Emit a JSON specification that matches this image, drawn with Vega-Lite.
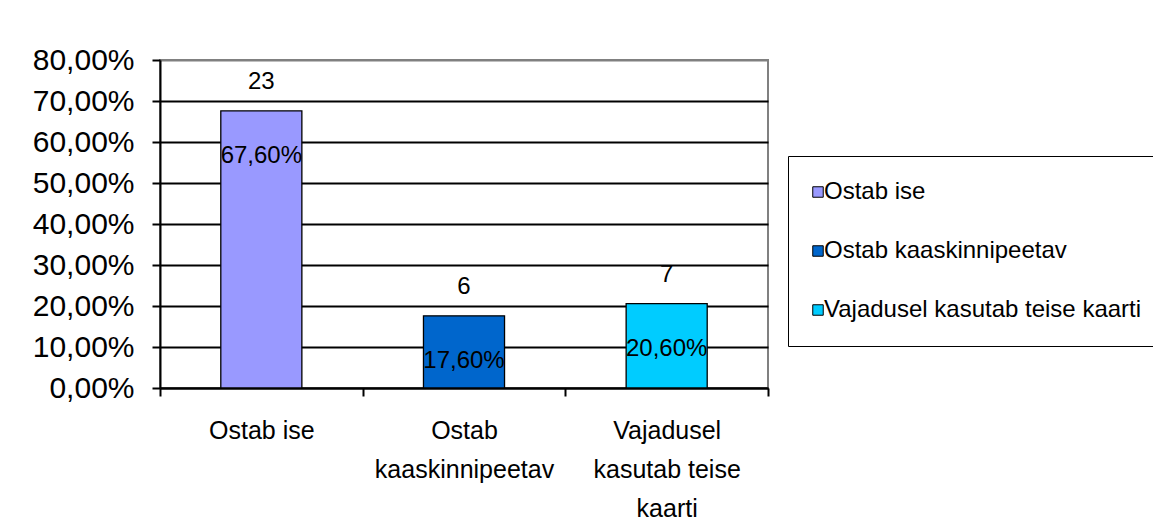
{
  "$schema": "https://vega.github.io/schema/vega-lite/v6.json",
  "autosize": "none",
  "padding": {"left": 160, "top": 60, "right": 385, "bottom": 142},
  "width": 608,
  "height": 328,
  "background": "white",
  "config": {
    "locale": {"number": {"decimal": ",", "thousands": " ", "grouping": [3], "currency": ["", " €"]}},
    "font": "Liberation Sans",
    "view": {"stroke": "#808080", "strokeWidth": 2},
    "axis": {"domainColor": "black", "tickColor": "black", "labelColor": "black", "labelFont": "Liberation Sans"}
  },
  "data": {
    "values": [
      {"category": "Ostab ise", "pct": 0.676, "count": 23},
      {"category": "Ostab kaaskinnipeetav", "pct": 0.176, "count": 6},
      {"category": "Vajadusel kasutab teise kaarti", "pct": 0.206, "count": 7}
    ]
  },
  "encoding": {
    "x": {
      "field": "category",
      "type": "nominal",
      "sort": null,
      "title": null,
      "scale": {"paddingInner": 0, "paddingOuter": 0},
      "axis": {
        "labelAngle": 0,
        "labelFontSize": 25,
        "labelLimit": 500,
        "labelLineHeight": 39,
        "labelPadding": 22,
        "labelBaseline": "top",
        "tickBand": "extent",
        "tickSize": 8,
        "tickWidth": 2,
        "domainWidth": 2,
        "labelExpr": "datum.label == 'Ostab kaaskinnipeetav' ? ['Ostab', 'kaaskinnipeetav'] : datum.label == 'Vajadusel kasutab teise kaarti' ? ['Vajadusel', 'kasutab teise', 'kaarti'] : datum.label"
      }
    },
    "y": {
      "field": "pct",
      "type": "quantitative",
      "title": null,
      "scale": {"domain": [0, 0.8], "nice": false},
      "axis": {
        "values": [0, 0.1, 0.2, 0.3, 0.4, 0.5, 0.6, 0.7, 0.8],
        "format": ".2%",
        "labelFontSize": 30,
        "labelPadding": 18,
        "tickSize": 8,
        "tickWidth": 2,
        "domainWidth": 2,
        "grid": true,
        "gridWidth": 2,
        "gridColor": {"condition": {"test": "datum.value >= 0.79", "value": "#808080"}, "value": "black"}
      }
    }
  },
  "layer": [
    {
      "mark": {"type": "bar", "width": {"band": 0.4}, "stroke": "black", "strokeWidth": 1.3},
      "encoding": {
        "color": {
          "field": "category",
          "type": "nominal",
          "sort": null,
          "scale": {
            "domain": ["Ostab ise", "Ostab kaaskinnipeetav", "Vajadusel kasutab teise kaarti"],
            "range": ["#9999FF", "#0066CC", "#00CCFF"]
          },
          "legend": {
            "title": null,
            "orient": "none",
            "legendX": 628,
            "legendY": 96,
            "padding": 24,
            "strokeColor": "black",
            "symbolType": "square",
            "symbolSize": 110,
            "symbolStrokeColor": "black",
            "symbolStrokeWidth": 1,
            "symbolOpacity": 1,
            "symbolOffset": -6,
            "labelFontSize": 24,
            "labelFont": "Liberation Sans",
            "labelColor": "black",
            "labelOffset": -6,
            "labelLimit": 500,
            "rowPadding": 35
          }
        }
      }
    },
    {
      "mark": {"type": "text", "fontSize": 24, "baseline": "middle", "dy": -29, "color": "black"},
      "encoding": {"text": {"field": "count", "type": "quantitative"}}
    },
    {
      "mark": {"type": "text", "fontSize": 24, "baseline": "middle", "dy": 45, "color": "black"},
      "encoding": {"text": {"field": "pct", "type": "quantitative", "format": ".2%"}}
    }
  ]
}
